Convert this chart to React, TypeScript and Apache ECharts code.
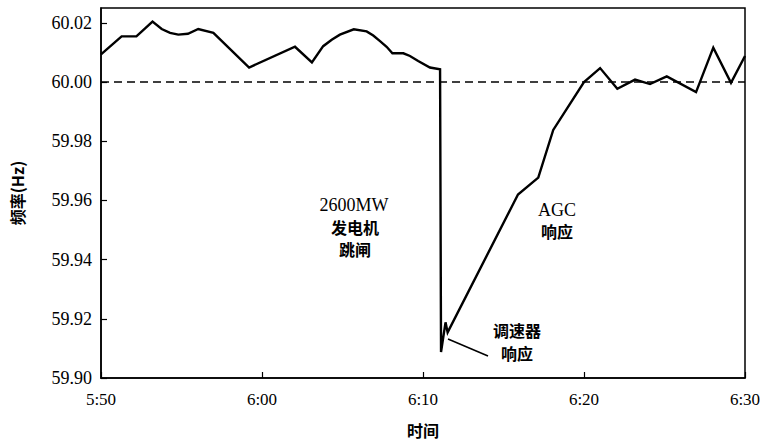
import React, { useEffect, useRef } from "react";
import * as echarts from "echarts";

// minutes after 5:50
const minutes = [
  0, 1.28, 2.2, 3.2, 3.77, 4.29, 4.8, 5.4, 6.04, 6.98, 9.2, 12.05, 13.1, 13.8, 14.33, 14.84,
  15.7, 16.5, 16.91, 17.33, 17.74, 18.1, 18.78, 19.19, 19.7, 20.43, 21.06, 21.12, 21.4, 21.53,
  25.9, 27.16, 28.09, 30.0, 31.0, 32.07, 33.17, 34.1, 35.14, 36.96, 38.03, 39.13, 40,
];
const frequency = [
  60.0093, 60.0154, 60.0154, 60.0204, 60.0179, 60.0166, 60.016, 60.0163, 60.0179, 60.0166,
  60.0049, 60.0119, 60.0066, 60.0121, 60.0143, 60.016, 60.0178, 60.0171, 60.0157, 60.0138,
  60.0119, 60.0097, 60.0097, 60.0088, 60.0071, 60.0049, 60.0043, 59.9088, 59.9188, 59.9154,
  59.962, 59.9677, 59.9838, 60.0, 60.0047, 59.9977, 60.0008, 59.9993, 60.0019, 59.9966,
  60.0116, 59.9997, 60.0088,
];
const timeTickLabels = ["5:50", "6:00", "6:10", "6:20", "6:30"];
const referenceFrequency = 60.0;

const SERIF = "'Liberation Serif', 'Times New Roman', serif";
const CJK = "'Noto Sans CJK SC', sans-serif";

export default function App() {
  const ref = useRef<HTMLDivElement>(null);
  useEffect(() => {
    if (!ref.current) return;
    const chart = echarts.init(ref.current, null, { renderer: "svg" });
    const data = minutes.map((m, i) => [m, frequency[i]]);
    const txt = (x: number, y: number, text: string, font: string) => ({
      type: "text",
      x,
      y,
      style: { text, font, fill: "#000", align: "center", verticalAlign: "middle", lineHeight: 18 },
    });
    chart.setOption({
      animation: false,
      backgroundColor: "#fff",
      grid: {
        left: 101,
        right: 21,
        top: 8,
        bottom: 60,
        show: true,
        borderColor: "#000",
        borderWidth: 1.5,
        backgroundColor: "transparent",
      },
      xAxis: {
        type: "value",
        min: 0,
        max: 40,
        interval: 10,
        name: "时间",
        nameLocation: "middle",
        nameGap: 44,
        nameTextStyle: { fontFamily: CJK, fontWeight: "bold", fontSize: 16, color: "#000" },
        axisLine: { show: true, lineStyle: { color: "#000", width: 1.5 } },
        axisTick: { show: true, inside: true, length: 6, lineStyle: { color: "#000", width: 1.2 } },
        axisLabel: {
          margin: 13,
          color: "#000",
          fontFamily: SERIF,
          fontSize: 17,
          formatter: (v: number) => timeTickLabels[Math.round(v / 10)] ?? "",
        },
        splitLine: { show: false },
      },
      yAxis: {
        type: "value",
        min: 59.9,
        max: 60.025,
        interval: 0.02,
        name: "频率(Hz)",
        nameLocation: "middle",
        nameRotate: 90,
        nameGap: 76,
        nameTextStyle: { fontFamily: CJK, fontWeight: "bold", fontSize: 16, color: "#000" },
        axisLine: { show: true, lineStyle: { color: "#000", width: 1.5 } },
        axisTick: { show: true, inside: true, length: 6, lineStyle: { color: "#000", width: 1.2 } },
        axisLabel: {
          margin: 9,
          color: "#000",
          fontFamily: SERIF,
          fontSize: 18,
          showMaxLabel: false,
          formatter: (v: number) => {
            const k = Math.round((v - 59.9) / 0.02);
            if (Math.abs(59.9 + k * 0.02 - v) > 1e-6) return "";
            return v.toFixed(2);
          },
        },
        splitLine: { show: false },
      },
      series: [
        {
          type: "line",
          data,
          symbol: "none",
          lineStyle: { color: "#000", width: 2.4, join: "miter" },
          markLine: {
            silent: true,
            symbol: ["none", "none"],
            label: { show: false },
            lineStyle: { color: "#000", type: [8, 5], width: 1.5 },
            data: [{ yAxis: referenceFrequency }],
          },
        },
      ],
      graphic: [
        txt(354, 205, "2600MW", `18px ${SERIF}`),
        txt(355, 227, "发电机", `bold 16px ${CJK}`),
        txt(355, 249, "跳闸", `bold 16px ${CJK}`),
        txt(557, 210, "AGC", `18px ${SERIF}`),
        txt(557, 231, "响应", `bold 16px ${CJK}`),
        txt(517, 330, "调速器", `bold 16px ${CJK}`),
        txt(517, 353, "响应", `bold 16px ${CJK}`),
        { type: "line", shape: { x1: 448, y1: 339, x2: 488, y2: 356 }, style: { stroke: "#000", lineWidth: 1.5 } },
      ],
    });
    return () => chart.dispose();
  }, []);
  return (
    <div
      ref={ref}
      style={{ position: "fixed", left: 0, top: 0, width: 766, height: 443, background: "#fff" }}
    />
  );
}
